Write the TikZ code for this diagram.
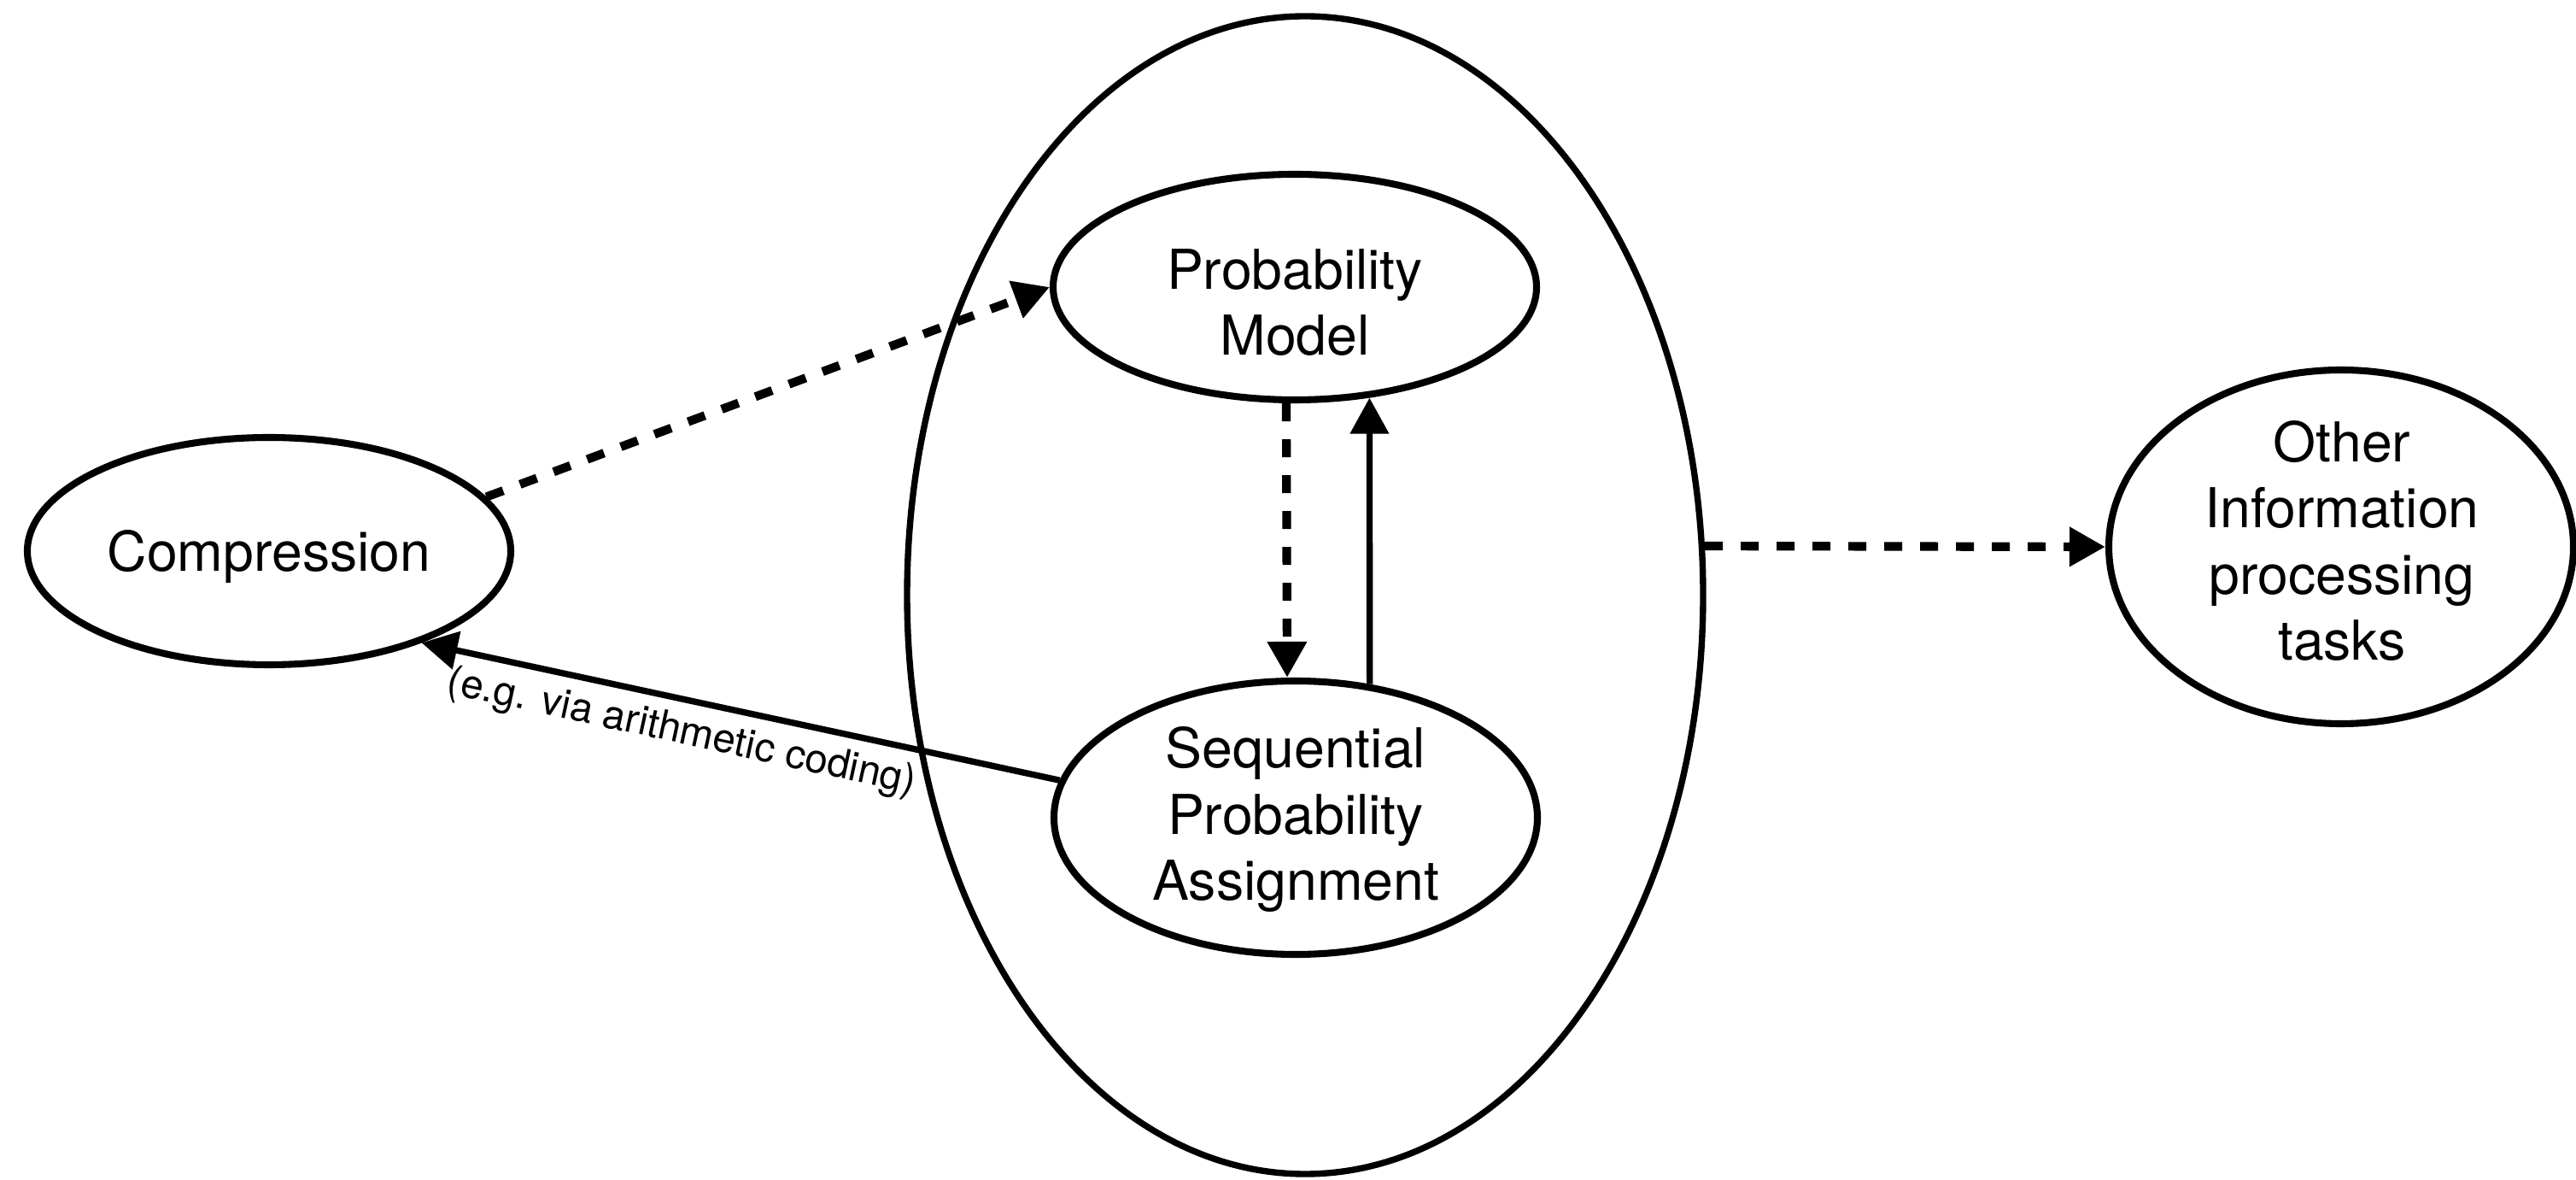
\documentclass[tikz,border=0pt]{standalone}
\usepackage{fontspec}
\setmainfont{TeX Gyre Heros}
\usetikzlibrary{shapes.geometric,arrows.meta}
\tikzset{
  ell/.style={ellipse, draw, line width=2.3pt, inner sep=0pt},
  bigell/.style={ellipse, draw, line width=2.1pt, inner sep=0pt},
  txt/.style={font=\fontsize{18.3}{22}\selectfont, align=center, inner sep=0pt},
  lbl/.style={font=\fontsize{13.5}{16}\selectfont, inner sep=0pt},
  arr/.style={-{Triangle[length=0.42cm,width=0.44cm]}, line width=2.1pt},
  darr/.style={-{Triangle[length=0.42cm,width=0.44cm]}, line width=2.9pt, dash pattern=on 0.21cm off 0.21cm}
}
\begin{document}
\begin{tikzpicture}
\useasboundingbox (0,0) rectangle (30.16,-13.81);
% ellipses
\node[bigell, minimum width=9.32cm, minimum height=13.55cm] (big) at (15.28,-6.965) {};
\node[ell, minimum width=5.66cm, minimum height=2.66cm] (comp) at (3.15,-6.45) {};
\node[ell, minimum width=5.66cm, minimum height=2.64cm] (pm) at (15.16,-3.36) {};
\node[ell, minimum width=5.66cm, minimum height=3.20cm] (seq) at (15.17,-9.57) {};
\node[ell, minimum width=5.44cm, minimum height=4.14cm] (oth) at (27.41,-6.40) {};
% texts
\node[txt] (compt) at (3.15,-6.51) {Compression};
\node[txt] (pmt) at (15.16,-3.54) {Probability\\Model};
\node[txt] (seqt) at (15.17,-9.59) {Sequential\\Probability\\Assignment};
\node[txt] (otht) at (27.42,-6.33) {Other\\Information\\processing\\tasks};
\node[lbl, rotate=-12.2] (lab) at (7.98,-8.58) {(e.g. via arithmetic coding)};
% connectors
\draw[darr] (comp.14) -- (pm.west);
\draw[darr] ([xshift=-0.1cm]pm.south) -- ([xshift=-0.1cm]seq.north);
\draw[arr] (seq.61) -- (pm.-56);
\draw[arr] (seq.171) -- (comp.-31);
\draw[darr] (big.7) -- (oth.west);
\end{tikzpicture}
\end{document}
